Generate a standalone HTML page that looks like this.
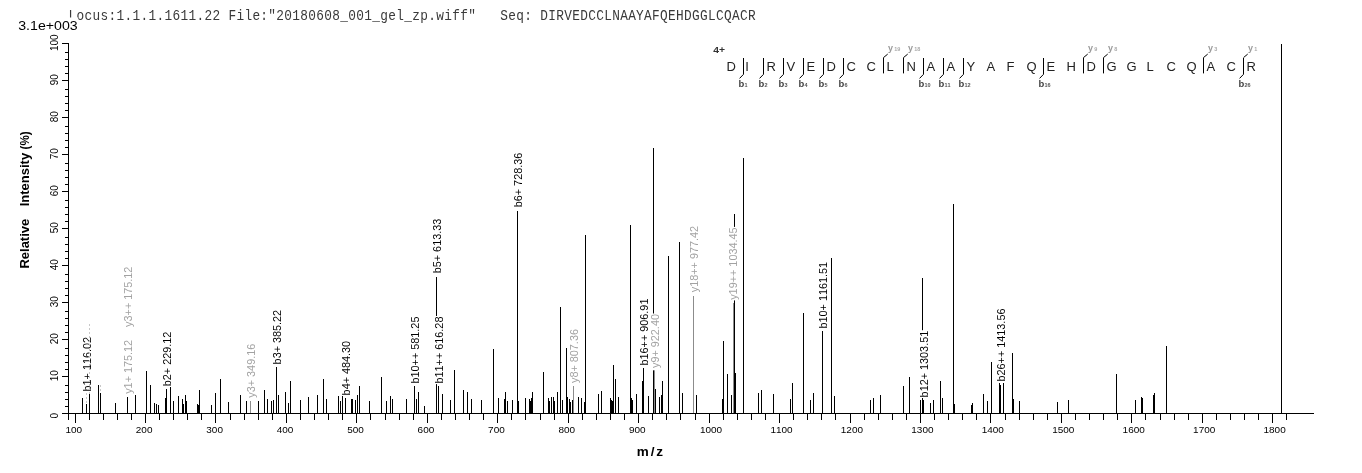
<!DOCTYPE html>
<html><head><meta charset="utf-8"><title>spectrum</title>
<style>html,body{margin:0;padding:0;background:#fff;}body{width:1362px;height:473px;overflow:hidden;}svg{display:block;will-change:transform;}text{font-family:"Liberation Sans",sans-serif;font-kerning:none;}.m{font-family:"Liberation Mono",monospace;}</style>
</head><body>
<svg width="1362" height="473" viewBox="0 0 1362 473">
<rect x="0" y="0" width="1362" height="473" fill="#fff"/>
<text class="m" transform="translate(68.5,19.8) scale(1,1.12)" font-size="12.8" letter-spacing="0.32" fill="#3a3a3a" xml:space="preserve">Locus:1.1.1.1611.22 File:"20180608_001_gel_zp.wiff"   Seq: DIRVEDCCLNAAYAFQEHDGGLCQACR</text>
<rect x="17" y="17.5" width="61.3" height="14" fill="#fff"/>
<text x="18.2" y="29.7" font-size="12" fill="#000" textLength="59.5" lengthAdjust="spacingAndGlyphs">3.1e+003</text>
<g shape-rendering="crispEdges">
<rect x="82" y="398" width="1" height="15" fill="#000"/>
<rect x="86" y="404" width="1" height="9" fill="#000"/>
<rect x="89" y="394" width="1" height="19" fill="#000"/>
<rect x="98" y="385" width="1" height="28" fill="#000"/>
<rect x="100" y="393" width="1" height="20" fill="#000"/>
<rect x="115" y="403" width="1" height="10" fill="#000"/>
<rect x="127" y="397" width="1" height="16" fill="#000"/>
<rect x="135" y="395" width="1" height="18" fill="#000"/>
<rect x="146" y="371" width="1" height="42" fill="#000"/>
<rect x="150" y="385" width="1" height="28" fill="#000"/>
<rect x="154" y="403" width="1" height="10" fill="#000"/>
<rect x="156" y="404" width="1" height="9" fill="#000"/>
<rect x="158" y="405" width="1" height="8" fill="#000"/>
<rect x="165" y="398" width="1" height="15" fill="#000"/>
<rect x="166" y="389" width="1" height="24" fill="#000"/>
<rect x="170" y="387" width="1" height="26" fill="#000"/>
<rect x="173" y="401" width="1" height="12" fill="#000"/>
<rect x="178" y="396" width="1" height="17" fill="#000"/>
<rect x="182" y="399" width="1" height="14" fill="#000"/>
<rect x="183" y="404" width="1" height="9" fill="#000"/>
<rect x="185" y="395" width="1" height="18" fill="#000"/>
<rect x="186" y="401" width="1" height="12" fill="#000"/>
<rect x="197" y="404" width="1" height="9" fill="#000"/>
<rect x="198" y="405" width="1" height="8" fill="#000"/>
<rect x="199" y="390" width="1" height="23" fill="#000"/>
<rect x="211" y="405" width="1" height="8" fill="#000"/>
<rect x="215" y="393" width="1" height="20" fill="#000"/>
<rect x="220" y="379" width="1" height="34" fill="#000"/>
<rect x="228" y="402" width="1" height="11" fill="#000"/>
<rect x="240" y="395" width="1" height="18" fill="#000"/>
<rect x="246" y="401" width="1" height="12" fill="#000"/>
<rect x="258" y="401" width="1" height="12" fill="#000"/>
<rect x="264" y="390" width="1" height="23" fill="#000"/>
<rect x="267" y="399" width="1" height="14" fill="#000"/>
<rect x="271" y="401" width="1" height="12" fill="#000"/>
<rect x="273" y="400" width="1" height="13" fill="#000"/>
<rect x="276" y="367" width="1" height="46" fill="#000"/>
<rect x="278" y="395" width="1" height="18" fill="#000"/>
<rect x="285" y="392" width="1" height="21" fill="#000"/>
<rect x="288" y="403" width="1" height="10" fill="#000"/>
<rect x="290" y="381" width="1" height="32" fill="#000"/>
<rect x="300" y="400" width="1" height="13" fill="#000"/>
<rect x="308" y="397" width="1" height="16" fill="#000"/>
<rect x="317" y="395" width="1" height="18" fill="#000"/>
<rect x="323" y="379" width="1" height="34" fill="#000"/>
<rect x="326" y="399" width="1" height="14" fill="#000"/>
<rect x="338" y="396" width="1" height="17" fill="#000"/>
<rect x="340" y="401" width="1" height="12" fill="#000"/>
<rect x="342" y="396" width="1" height="17" fill="#000"/>
<rect x="345" y="398" width="1" height="15" fill="#000"/>
<rect x="351" y="399" width="1" height="14" fill="#000"/>
<rect x="352" y="399" width="1" height="14" fill="#000"/>
<rect x="355" y="400" width="1" height="13" fill="#000"/>
<rect x="357" y="395" width="1" height="18" fill="#000"/>
<rect x="359" y="386" width="1" height="27" fill="#000"/>
<rect x="369" y="401" width="1" height="12" fill="#000"/>
<rect x="381" y="377" width="1" height="36" fill="#000"/>
<rect x="386" y="401" width="1" height="12" fill="#000"/>
<rect x="390" y="396" width="1" height="17" fill="#000"/>
<rect x="392" y="399" width="1" height="14" fill="#000"/>
<rect x="406" y="399" width="1" height="14" fill="#000"/>
<rect x="414" y="386" width="1" height="27" fill="#000"/>
<rect x="416" y="399" width="1" height="14" fill="#000"/>
<rect x="418" y="392" width="1" height="21" fill="#000"/>
<rect x="424" y="406" width="1" height="7" fill="#000"/>
<rect x="436" y="277" width="1" height="136" fill="#000"/>
<rect x="438" y="386" width="1" height="27" fill="#000"/>
<rect x="442" y="394" width="1" height="19" fill="#000"/>
<rect x="450" y="400" width="1" height="13" fill="#000"/>
<rect x="454" y="370" width="1" height="43" fill="#000"/>
<rect x="463" y="390" width="1" height="23" fill="#000"/>
<rect x="467" y="392" width="1" height="21" fill="#000"/>
<rect x="471" y="399" width="1" height="14" fill="#000"/>
<rect x="481" y="400" width="1" height="13" fill="#000"/>
<rect x="493" y="349" width="1" height="64" fill="#000"/>
<rect x="498" y="398" width="1" height="15" fill="#000"/>
<rect x="504" y="399" width="1" height="14" fill="#000"/>
<rect x="505" y="392" width="1" height="21" fill="#000"/>
<rect x="507" y="401" width="1" height="12" fill="#000"/>
<rect x="512" y="400" width="1" height="13" fill="#000"/>
<rect x="517" y="211" width="1" height="202" fill="#000"/>
<rect x="518" y="401" width="1" height="12" fill="#000"/>
<rect x="525" y="398" width="1" height="15" fill="#000"/>
<rect x="529" y="399" width="1" height="14" fill="#000"/>
<rect x="530" y="401" width="1" height="12" fill="#000"/>
<rect x="531" y="398" width="1" height="15" fill="#000"/>
<rect x="532" y="392" width="1" height="21" fill="#000"/>
<rect x="543" y="372" width="1" height="41" fill="#000"/>
<rect x="548" y="398" width="1" height="15" fill="#000"/>
<rect x="549" y="401" width="1" height="12" fill="#000"/>
<rect x="551" y="397" width="1" height="16" fill="#000"/>
<rect x="553" y="397" width="1" height="16" fill="#000"/>
<rect x="554" y="401" width="1" height="12" fill="#000"/>
<rect x="557" y="392" width="1" height="21" fill="#000"/>
<rect x="560" y="307" width="1" height="106" fill="#000"/>
<rect x="562" y="400" width="1" height="13" fill="#000"/>
<rect x="566" y="348" width="1" height="65" fill="#000"/>
<rect x="567" y="397" width="1" height="16" fill="#000"/>
<rect x="569" y="399" width="1" height="14" fill="#000"/>
<rect x="570" y="402" width="1" height="11" fill="#000"/>
<rect x="572" y="400" width="1" height="13" fill="#000"/>
<rect x="578" y="397" width="1" height="16" fill="#000"/>
<rect x="581" y="398" width="1" height="15" fill="#000"/>
<rect x="584" y="402" width="1" height="11" fill="#000"/>
<rect x="585" y="235" width="1" height="178" fill="#000"/>
<rect x="598" y="394" width="1" height="19" fill="#000"/>
<rect x="601" y="391" width="1" height="22" fill="#000"/>
<rect x="610" y="398" width="1" height="15" fill="#000"/>
<rect x="611" y="400" width="1" height="13" fill="#000"/>
<rect x="612" y="401" width="1" height="12" fill="#000"/>
<rect x="613" y="365" width="1" height="48" fill="#000"/>
<rect x="615" y="379" width="1" height="34" fill="#000"/>
<rect x="618" y="397" width="1" height="16" fill="#000"/>
<rect x="630" y="225" width="1" height="188" fill="#000"/>
<rect x="631" y="398" width="1" height="15" fill="#000"/>
<rect x="632" y="400" width="1" height="13" fill="#000"/>
<rect x="636" y="394" width="1" height="19" fill="#000"/>
<rect x="642" y="381" width="1" height="32" fill="#000"/>
<rect x="643" y="368" width="1" height="45" fill="#000"/>
<rect x="648" y="396" width="1" height="17" fill="#000"/>
<rect x="653" y="148" width="1" height="265" fill="#000"/>
<rect x="655" y="389" width="1" height="24" fill="#000"/>
<rect x="659" y="397" width="1" height="16" fill="#000"/>
<rect x="661" y="395" width="1" height="18" fill="#000"/>
<rect x="662" y="381" width="1" height="32" fill="#000"/>
<rect x="668" y="256" width="1" height="157" fill="#000"/>
<rect x="679" y="242" width="1" height="171" fill="#000"/>
<rect x="682" y="393" width="1" height="20" fill="#000"/>
<rect x="696" y="395" width="1" height="18" fill="#000"/>
<rect x="722" y="399" width="1" height="14" fill="#000"/>
<rect x="723" y="341" width="1" height="72" fill="#000"/>
<rect x="727" y="374" width="1" height="39" fill="#000"/>
<rect x="731" y="395" width="1" height="18" fill="#000"/>
<rect x="734" y="214" width="1" height="199" fill="#000"/>
<rect x="735" y="373" width="1" height="40" fill="#000"/>
<rect x="743" y="158" width="1" height="255" fill="#000"/>
<rect x="758" y="393" width="1" height="20" fill="#000"/>
<rect x="761" y="390" width="1" height="23" fill="#000"/>
<rect x="773" y="394" width="1" height="19" fill="#000"/>
<rect x="790" y="399" width="1" height="14" fill="#000"/>
<rect x="792" y="383" width="1" height="30" fill="#000"/>
<rect x="803" y="313" width="1" height="100" fill="#000"/>
<rect x="810" y="400" width="1" height="13" fill="#000"/>
<rect x="813" y="393" width="1" height="20" fill="#000"/>
<rect x="822" y="331" width="1" height="82" fill="#000"/>
<rect x="831" y="258" width="1" height="155" fill="#000"/>
<rect x="834" y="396" width="1" height="17" fill="#000"/>
<rect x="870" y="400" width="1" height="13" fill="#000"/>
<rect x="873" y="398" width="1" height="15" fill="#000"/>
<rect x="880" y="395" width="1" height="18" fill="#000"/>
<rect x="903" y="386" width="1" height="27" fill="#000"/>
<rect x="909" y="377" width="1" height="36" fill="#000"/>
<rect x="920" y="400" width="1" height="13" fill="#000"/>
<rect x="922" y="278" width="1" height="135" fill="#000"/>
<rect x="923" y="400" width="1" height="13" fill="#000"/>
<rect x="930" y="403" width="1" height="10" fill="#000"/>
<rect x="933" y="400" width="1" height="13" fill="#000"/>
<rect x="940" y="381" width="1" height="32" fill="#000"/>
<rect x="942" y="398" width="1" height="15" fill="#000"/>
<rect x="953" y="204" width="1" height="209" fill="#000"/>
<rect x="954" y="404" width="1" height="9" fill="#000"/>
<rect x="971" y="405" width="1" height="8" fill="#000"/>
<rect x="972" y="403" width="1" height="10" fill="#000"/>
<rect x="983" y="394" width="1" height="19" fill="#000"/>
<rect x="987" y="401" width="1" height="12" fill="#000"/>
<rect x="991" y="362" width="1" height="51" fill="#000"/>
<rect x="999" y="383" width="1" height="30" fill="#000"/>
<rect x="1000" y="385" width="1" height="28" fill="#000"/>
<rect x="1003" y="383" width="1" height="30" fill="#000"/>
<rect x="1012" y="353" width="1" height="60" fill="#000"/>
<rect x="1013" y="399" width="1" height="14" fill="#000"/>
<rect x="1019" y="401" width="1" height="12" fill="#000"/>
<rect x="1057" y="402" width="1" height="11" fill="#000"/>
<rect x="1068" y="400" width="1" height="13" fill="#000"/>
<rect x="1116" y="374" width="1" height="39" fill="#000"/>
<rect x="1135" y="400" width="1" height="13" fill="#000"/>
<rect x="1141" y="397" width="1" height="16" fill="#000"/>
<rect x="1142" y="398" width="1" height="15" fill="#000"/>
<rect x="1153" y="395" width="1" height="18" fill="#000"/>
<rect x="1154" y="393" width="1" height="20" fill="#000"/>
<rect x="1166" y="346" width="1" height="67" fill="#000"/>
<rect x="1281" y="44" width="1" height="369" fill="#000"/>
<rect x="250" y="401" width="1" height="12" fill="#8c8c8c"/>
<rect x="573" y="386" width="1" height="27" fill="#8c8c8c"/>
<rect x="654" y="370" width="1" height="43" fill="#8c8c8c"/>
<rect x="693" y="296" width="1" height="117" fill="#8c8c8c"/>
<rect x="733" y="303" width="1" height="110" fill="#8c8c8c"/>
</g>
<rect x="81.6" y="336.4" width="11" height="55.7" fill="#fff"/>
<rect x="122.4" y="339.3" width="11" height="55.1" fill="#fff"/>
<rect x="122.4" y="266.1" width="11" height="61.4" fill="#fff"/>
<rect x="161.7" y="331.1" width="11" height="55.7" fill="#fff"/>
<rect x="245.1" y="343.2" width="11" height="55.1" fill="#fff"/>
<rect x="271.6" y="309.3" width="11" height="55.7" fill="#fff"/>
<rect x="340.9" y="340.3" width="11" height="55.7" fill="#fff"/>
<rect x="409.7" y="316.0" width="11" height="68.1" fill="#fff"/>
<rect x="433.9" y="316.0" width="11" height="68.1" fill="#fff"/>
<rect x="431.9" y="218.2" width="11" height="55.7" fill="#fff"/>
<rect x="512.7" y="152.2" width="11" height="55.7" fill="#fff"/>
<rect x="568.2" y="328.5" width="11" height="55.1" fill="#fff"/>
<rect x="638.7" y="298.0" width="11" height="68.1" fill="#fff"/>
<rect x="650.0" y="313.5" width="11" height="56.8" fill="#fff"/>
<rect x="689.0" y="225.3" width="11" height="67.5" fill="#fff"/>
<rect x="728.0" y="226.9" width="11" height="73.5" fill="#fff"/>
<rect x="817.6" y="261.3" width="11" height="67.8" fill="#fff"/>
<rect x="918.7" y="330.2" width="11" height="67.8" fill="#fff"/>
<rect x="995.6" y="308.0" width="11" height="74.1" fill="#fff"/>
<text transform="translate(91.0,391.5) rotate(-90) scale(1,1.08)" font-size="10.85" fill="#000">b1+ 116.02</text>
<text transform="translate(131.8,393.8) rotate(-90) scale(1,1.08)" font-size="10.85" fill="#a2a2a2">y1+ 175.12</text>
<text transform="translate(131.8,326.9) rotate(-90) scale(1,1.08)" font-size="10.85" fill="#a2a2a2">y3++ 175.12</text>
<text transform="translate(171.1,386.2) rotate(-90) scale(1,1.08)" font-size="10.85" fill="#000">b2+ 229.12</text>
<text transform="translate(254.5,397.7) rotate(-90) scale(1,1.08)" font-size="10.85" fill="#a2a2a2">y3+ 349.16</text>
<text transform="translate(281.0,364.4) rotate(-90) scale(1,1.08)" font-size="10.85" fill="#000">b3+ 385.22</text>
<text transform="translate(350.3,395.4) rotate(-90) scale(1,1.08)" font-size="10.85" fill="#000">b4+ 484.30</text>
<text transform="translate(419.1,383.5) rotate(-90) scale(1,1.08)" font-size="10.85" fill="#000">b10++ 581.25</text>
<text transform="translate(443.3,383.5) rotate(-90) scale(1,1.08)" font-size="10.85" fill="#000">b11++ 616.28</text>
<text transform="translate(441.3,273.3) rotate(-90) scale(1,1.08)" font-size="10.85" fill="#000">b5+ 613.33</text>
<text transform="translate(522.1,207.3) rotate(-90) scale(1,1.08)" font-size="10.85" fill="#000">b6+ 728.36</text>
<text transform="translate(577.6,383.0) rotate(-90) scale(1,1.08)" font-size="10.85" fill="#a2a2a2">y8+ 807.36</text>
<text transform="translate(648.1,365.5) rotate(-90) scale(1,1.08)" font-size="10.85" fill="#000">b16++ 906.91</text>
<text transform="translate(659.4,368.0) rotate(-90) scale(1,1.08)" font-size="10.85" fill="#a2a2a2">y9+ 922.40</text>
<text transform="translate(698.4,292.2) rotate(-90) scale(1,1.08)" font-size="10.85" fill="#a2a2a2">y18++ 977.42</text>
<text transform="translate(737.4,299.8) rotate(-90) scale(1,1.08)" font-size="10.85" fill="#a2a2a2">y19++ 1034.45</text>
<text transform="translate(827.0,328.5) rotate(-90) scale(1,1.08)" font-size="10.85" fill="#000">b10+ 1161.51</text>
<text transform="translate(928.1,397.4) rotate(-90) scale(1,1.08)" font-size="10.85" fill="#000">b12+ 1303.51</text>
<text transform="translate(1005.0,381.5) rotate(-90) scale(1,1.08)" font-size="10.85" fill="#000">b26++ 1413.56</text>
<g stroke="#c8c8c8" stroke-width="1" stroke-dasharray="2,2" shape-rendering="crispEdges">
<line x1="89.5" y1="324" x2="89.5" y2="394"/>
<line x1="86.5" y1="393" x2="86.5" y2="403"/>
<line x1="100.5" y1="385" x2="100.5" y2="392"/>
</g>
<g shape-rendering="crispEdges" fill="#000">
<rect x="62" y="413" width="1252" height="1"/>
<rect x="68" y="43" width="1" height="377"/>
<rect x="62" y="413" width="6" height="1"/>
<rect x="65" y="406" width="3" height="1"/>
<rect x="65" y="399" width="3" height="1"/>
<rect x="65" y="392" width="3" height="1"/>
<rect x="65" y="385" width="3" height="1"/>
<rect x="62" y="376" width="6" height="1"/>
<rect x="65" y="369" width="3" height="1"/>
<rect x="65" y="362" width="3" height="1"/>
<rect x="65" y="355" width="3" height="1"/>
<rect x="65" y="348" width="3" height="1"/>
<rect x="62" y="339" width="6" height="1"/>
<rect x="65" y="332" width="3" height="1"/>
<rect x="65" y="325" width="3" height="1"/>
<rect x="65" y="318" width="3" height="1"/>
<rect x="65" y="311" width="3" height="1"/>
<rect x="62" y="302" width="6" height="1"/>
<rect x="65" y="295" width="3" height="1"/>
<rect x="65" y="288" width="3" height="1"/>
<rect x="65" y="281" width="3" height="1"/>
<rect x="65" y="274" width="3" height="1"/>
<rect x="62" y="265" width="6" height="1"/>
<rect x="65" y="258" width="3" height="1"/>
<rect x="65" y="251" width="3" height="1"/>
<rect x="65" y="244" width="3" height="1"/>
<rect x="65" y="237" width="3" height="1"/>
<rect x="62" y="228" width="6" height="1"/>
<rect x="65" y="221" width="3" height="1"/>
<rect x="65" y="214" width="3" height="1"/>
<rect x="65" y="207" width="3" height="1"/>
<rect x="65" y="200" width="3" height="1"/>
<rect x="62" y="191" width="6" height="1"/>
<rect x="65" y="184" width="3" height="1"/>
<rect x="65" y="177" width="3" height="1"/>
<rect x="65" y="170" width="3" height="1"/>
<rect x="65" y="163" width="3" height="1"/>
<rect x="62" y="154" width="6" height="1"/>
<rect x="65" y="147" width="3" height="1"/>
<rect x="65" y="140" width="3" height="1"/>
<rect x="65" y="133" width="3" height="1"/>
<rect x="65" y="126" width="3" height="1"/>
<rect x="62" y="117" width="6" height="1"/>
<rect x="65" y="110" width="3" height="1"/>
<rect x="65" y="103" width="3" height="1"/>
<rect x="65" y="96" width="3" height="1"/>
<rect x="65" y="89" width="3" height="1"/>
<rect x="62" y="80" width="6" height="1"/>
<rect x="65" y="73" width="3" height="1"/>
<rect x="65" y="66" width="3" height="1"/>
<rect x="65" y="59" width="3" height="1"/>
<rect x="65" y="52" width="3" height="1"/>
<rect x="62" y="43" width="6" height="1"/>
<rect x="75" y="413" width="1" height="10"/>
<rect x="89" y="413" width="1" height="7"/>
<rect x="103" y="413" width="1" height="7"/>
<rect x="117" y="413" width="1" height="7"/>
<rect x="131" y="413" width="1" height="7"/>
<rect x="145" y="413" width="1" height="10"/>
<rect x="159" y="413" width="1" height="7"/>
<rect x="173" y="413" width="1" height="7"/>
<rect x="187" y="413" width="1" height="7"/>
<rect x="201" y="413" width="1" height="7"/>
<rect x="215" y="413" width="1" height="10"/>
<rect x="230" y="413" width="1" height="7"/>
<rect x="244" y="413" width="1" height="7"/>
<rect x="258" y="413" width="1" height="7"/>
<rect x="272" y="413" width="1" height="7"/>
<rect x="286" y="413" width="1" height="10"/>
<rect x="300" y="413" width="1" height="7"/>
<rect x="314" y="413" width="1" height="7"/>
<rect x="328" y="413" width="1" height="7"/>
<rect x="342" y="413" width="1" height="7"/>
<rect x="356" y="413" width="1" height="10"/>
<rect x="370" y="413" width="1" height="7"/>
<rect x="385" y="413" width="1" height="7"/>
<rect x="399" y="413" width="1" height="7"/>
<rect x="413" y="413" width="1" height="7"/>
<rect x="427" y="413" width="1" height="10"/>
<rect x="441" y="413" width="1" height="7"/>
<rect x="455" y="413" width="1" height="7"/>
<rect x="469" y="413" width="1" height="7"/>
<rect x="483" y="413" width="1" height="7"/>
<rect x="497" y="413" width="1" height="10"/>
<rect x="511" y="413" width="1" height="7"/>
<rect x="525" y="413" width="1" height="7"/>
<rect x="540" y="413" width="1" height="7"/>
<rect x="554" y="413" width="1" height="7"/>
<rect x="568" y="413" width="1" height="10"/>
<rect x="582" y="413" width="1" height="7"/>
<rect x="596" y="413" width="1" height="7"/>
<rect x="610" y="413" width="1" height="7"/>
<rect x="624" y="413" width="1" height="7"/>
<rect x="638" y="413" width="1" height="10"/>
<rect x="652" y="413" width="1" height="7"/>
<rect x="666" y="413" width="1" height="7"/>
<rect x="680" y="413" width="1" height="7"/>
<rect x="695" y="413" width="1" height="7"/>
<rect x="709" y="413" width="1" height="10"/>
<rect x="723" y="413" width="1" height="7"/>
<rect x="737" y="413" width="1" height="7"/>
<rect x="751" y="413" width="1" height="7"/>
<rect x="765" y="413" width="1" height="7"/>
<rect x="779" y="413" width="1" height="10"/>
<rect x="793" y="413" width="1" height="7"/>
<rect x="807" y="413" width="1" height="7"/>
<rect x="821" y="413" width="1" height="7"/>
<rect x="835" y="413" width="1" height="7"/>
<rect x="850" y="413" width="1" height="10"/>
<rect x="864" y="413" width="1" height="7"/>
<rect x="878" y="413" width="1" height="7"/>
<rect x="892" y="413" width="1" height="7"/>
<rect x="906" y="413" width="1" height="7"/>
<rect x="920" y="413" width="1" height="10"/>
<rect x="934" y="413" width="1" height="7"/>
<rect x="948" y="413" width="1" height="7"/>
<rect x="962" y="413" width="1" height="7"/>
<rect x="976" y="413" width="1" height="7"/>
<rect x="990" y="413" width="1" height="10"/>
<rect x="1005" y="413" width="1" height="7"/>
<rect x="1019" y="413" width="1" height="7"/>
<rect x="1033" y="413" width="1" height="7"/>
<rect x="1047" y="413" width="1" height="7"/>
<rect x="1061" y="413" width="1" height="10"/>
<rect x="1075" y="413" width="1" height="7"/>
<rect x="1089" y="413" width="1" height="7"/>
<rect x="1103" y="413" width="1" height="7"/>
<rect x="1117" y="413" width="1" height="7"/>
<rect x="1131" y="413" width="1" height="10"/>
<rect x="1145" y="413" width="1" height="7"/>
<rect x="1160" y="413" width="1" height="7"/>
<rect x="1174" y="413" width="1" height="7"/>
<rect x="1188" y="413" width="1" height="7"/>
<rect x="1202" y="413" width="1" height="10"/>
<rect x="1216" y="413" width="1" height="7"/>
<rect x="1230" y="413" width="1" height="7"/>
<rect x="1244" y="413" width="1" height="7"/>
<rect x="1258" y="413" width="1" height="7"/>
<rect x="1272" y="413" width="1" height="10"/>
<rect x="1286" y="413" width="1" height="7"/>
</g>
<text transform="translate(65.4,433) scale(1,0.9)" font-size="10" fill="#000">100</text>
<text transform="translate(135.8,433) scale(1,0.9)" font-size="10" fill="#000">200</text>
<text transform="translate(206.3,433) scale(1,0.9)" font-size="10" fill="#000">300</text>
<text transform="translate(276.7,433) scale(1,0.9)" font-size="10" fill="#000">400</text>
<text transform="translate(347.2,433) scale(1,0.9)" font-size="10" fill="#000">500</text>
<text transform="translate(417.6,433) scale(1,0.9)" font-size="10" fill="#000">600</text>
<text transform="translate(488.1,433) scale(1,0.9)" font-size="10" fill="#000">700</text>
<text transform="translate(558.5,433) scale(1,0.9)" font-size="10" fill="#000">800</text>
<text transform="translate(629.0,433) scale(1,0.9)" font-size="10" fill="#000">900</text>
<text transform="translate(699.9,433) scale(1,0.9)" font-size="10" fill="#000">1000</text>
<text transform="translate(770.4,433) scale(1,0.9)" font-size="10" fill="#000">1100</text>
<text transform="translate(840.8,433) scale(1,0.9)" font-size="10" fill="#000">1200</text>
<text transform="translate(911.3,433) scale(1,0.9)" font-size="10" fill="#000">1300</text>
<text transform="translate(981.7,433) scale(1,0.9)" font-size="10" fill="#000">1400</text>
<text transform="translate(1052.2,433) scale(1,0.9)" font-size="10" fill="#000">1500</text>
<text transform="translate(1122.6,433) scale(1,0.9)" font-size="10" fill="#000">1600</text>
<text transform="translate(1193.1,433) scale(1,0.9)" font-size="10" fill="#000">1700</text>
<text transform="translate(1263.5,433) scale(1,0.9)" font-size="10" fill="#000">1800</text>
<text transform="translate(57.8,415.7) rotate(-90)" font-size="10" text-anchor="middle" fill="#000">0</text>
<text transform="translate(57.8,375.7) rotate(-90)" font-size="10" text-anchor="middle" fill="#000">10</text>
<text transform="translate(57.8,338.7) rotate(-90)" font-size="10" text-anchor="middle" fill="#000">20</text>
<text transform="translate(57.8,301.7) rotate(-90)" font-size="10" text-anchor="middle" fill="#000">30</text>
<text transform="translate(57.8,264.7) rotate(-90)" font-size="10" text-anchor="middle" fill="#000">40</text>
<text transform="translate(57.8,227.7) rotate(-90)" font-size="10" text-anchor="middle" fill="#000">50</text>
<text transform="translate(57.8,190.7) rotate(-90)" font-size="10" text-anchor="middle" fill="#000">60</text>
<text transform="translate(57.8,153.7) rotate(-90)" font-size="10" text-anchor="middle" fill="#000">70</text>
<text transform="translate(57.8,116.7) rotate(-90)" font-size="10" text-anchor="middle" fill="#000">80</text>
<text transform="translate(57.8,79.7) rotate(-90)" font-size="10" text-anchor="middle" fill="#000">90</text>
<text transform="translate(57.8,42.7) rotate(-90)" font-size="10" text-anchor="middle" fill="#000">100</text>
<text transform="translate(29.3,268.6) rotate(-90)" font-size="13" font-weight="bold" fill="#000">Relative</text>
<text transform="translate(29.3,206.3) rotate(-90)" font-size="13" font-weight="bold" fill="#000">Intensity</text>
<text transform="translate(29.3,149.4) rotate(-90)" font-size="13" font-weight="bold" fill="#000" textLength="18" lengthAdjust="spacingAndGlyphs">(%)</text>
<text x="636.8" y="455.8" font-size="13.5" font-weight="bold" fill="#000" letter-spacing="1.9">m/z</text>
<text x="713.2" y="52.6" font-size="9.5" font-weight="bold" fill="#333" textLength="11.8" lengthAdjust="spacingAndGlyphs">4+</text>
<text x="726.6" y="70.7" font-size="13" fill="#222">D</text>
<text x="745.3" y="70.7" font-size="13" fill="#222">I</text>
<text x="766.6" y="70.7" font-size="13" fill="#222">R</text>
<text x="786.6" y="70.7" font-size="13" fill="#222">V</text>
<text x="806.6" y="70.7" font-size="13" fill="#222">E</text>
<text x="826.6" y="70.7" font-size="13" fill="#222">D</text>
<text x="846.6" y="70.7" font-size="13" fill="#222">C</text>
<text x="866.6" y="70.7" font-size="13" fill="#222">C</text>
<text x="886.6" y="70.7" font-size="13" fill="#222">L</text>
<text x="906.6" y="70.7" font-size="13" fill="#222">N</text>
<text x="926.6" y="70.7" font-size="13" fill="#222">A</text>
<text x="946.6" y="70.7" font-size="13" fill="#222">A</text>
<text x="966.6" y="70.7" font-size="13" fill="#222">Y</text>
<text x="986.6" y="70.7" font-size="13" fill="#222">A</text>
<text x="1006.6" y="70.7" font-size="13" fill="#222">F</text>
<text x="1026.6" y="70.7" font-size="13" fill="#222">Q</text>
<text x="1046.6" y="70.7" font-size="13" fill="#222">E</text>
<text x="1066.6" y="70.7" font-size="13" fill="#222">H</text>
<text x="1086.6" y="70.7" font-size="13" fill="#222">D</text>
<text x="1106.6" y="70.7" font-size="13" fill="#222">G</text>
<text x="1126.6" y="70.7" font-size="13" fill="#222">G</text>
<text x="1146.6" y="70.7" font-size="13" fill="#222">L</text>
<text x="1166.6" y="70.7" font-size="13" fill="#222">C</text>
<text x="1186.6" y="70.7" font-size="13" fill="#222">Q</text>
<text x="1206.6" y="70.7" font-size="13" fill="#222">A</text>
<text x="1226.6" y="70.7" font-size="13" fill="#222">C</text>
<text x="1246.6" y="70.7" font-size="13" fill="#222">R</text>
<g stroke="#000" stroke-width="1" fill="none">
<path d="M743.5 58 V74.3 L739.6 78.4"/>
<path d="M763.5 58 V74.3 L759.6 78.4"/>
<path d="M783.5 58 V74.3 L779.6 78.4"/>
<path d="M803.5 58 V74.3 L799.6 78.4"/>
<path d="M823.5 58 V74.3 L819.6 78.4"/>
<path d="M843.5 58 V74.3 L839.6 78.4"/>
<path d="M923.5 58 V74.3 L919.6 78.4"/>
<path d="M943.5 58 V74.3 L939.6 78.4"/>
<path d="M963.5 58 V74.3 L959.6 78.4"/>
<path d="M1043.5 58 V74.3 L1039.6 78.4"/>
<path d="M1243.5 58 V74.3 L1239.6 78.4"/>
<path d="M883.5 73.4 V57.6 L887.7 54.1"/>
<path d="M903.5 73.4 V57.6 L907.7 54.1"/>
<path d="M1083.5 73.4 V57.6 L1087.7 54.1"/>
<path d="M1103.5 73.4 V57.6 L1107.7 54.1"/>
<path d="M1203.5 73.4 V57.6 L1207.7 54.1"/>
<path d="M1243.5 57.6 L1247.7 54.1"/>
</g>
<text x="738.5" y="86.5" font-size="9.5" font-weight="bold" fill="#444">b</text>
<text x="744.5" y="86.5" font-size="5.5" font-weight="bold" fill="#555">1</text>
<text x="758.5" y="86.5" font-size="9.5" font-weight="bold" fill="#444">b</text>
<text x="764.5" y="86.5" font-size="5.5" font-weight="bold" fill="#555">2</text>
<text x="778.5" y="86.5" font-size="9.5" font-weight="bold" fill="#444">b</text>
<text x="784.5" y="86.5" font-size="5.5" font-weight="bold" fill="#555">3</text>
<text x="798.5" y="86.5" font-size="9.5" font-weight="bold" fill="#444">b</text>
<text x="804.5" y="86.5" font-size="5.5" font-weight="bold" fill="#555">4</text>
<text x="818.5" y="86.5" font-size="9.5" font-weight="bold" fill="#444">b</text>
<text x="824.5" y="86.5" font-size="5.5" font-weight="bold" fill="#555">5</text>
<text x="838.5" y="86.5" font-size="9.5" font-weight="bold" fill="#444">b</text>
<text x="844.5" y="86.5" font-size="5.5" font-weight="bold" fill="#555">6</text>
<text x="918.5" y="86.5" font-size="9.5" font-weight="bold" fill="#444">b</text>
<text x="924.5" y="86.5" font-size="5.5" font-weight="bold" fill="#555">10</text>
<text x="938.5" y="86.5" font-size="9.5" font-weight="bold" fill="#444">b</text>
<text x="944.5" y="86.5" font-size="5.5" font-weight="bold" fill="#555">11</text>
<text x="958.5" y="86.5" font-size="9.5" font-weight="bold" fill="#444">b</text>
<text x="964.5" y="86.5" font-size="5.5" font-weight="bold" fill="#555">12</text>
<text x="1038.5" y="86.5" font-size="9.5" font-weight="bold" fill="#444">b</text>
<text x="1044.5" y="86.5" font-size="5.5" font-weight="bold" fill="#555">16</text>
<text x="1238.5" y="86.5" font-size="9.5" font-weight="bold" fill="#444">b</text>
<text x="1244.5" y="86.5" font-size="5.5" font-weight="bold" fill="#555">26</text>
<text x="888.1" y="50.5" font-size="9" font-weight="bold" fill="#999">y</text>
<text x="894.3" y="50.5" font-size="5.5" font-weight="bold" fill="#aaa">19</text>
<text x="908.1" y="50.5" font-size="9" font-weight="bold" fill="#999">y</text>
<text x="914.3" y="50.5" font-size="5.5" font-weight="bold" fill="#aaa">18</text>
<text x="1088.1" y="50.5" font-size="9" font-weight="bold" fill="#999">y</text>
<text x="1094.3" y="50.5" font-size="5.5" font-weight="bold" fill="#aaa">9</text>
<text x="1108.1" y="50.5" font-size="9" font-weight="bold" fill="#999">y</text>
<text x="1114.3" y="50.5" font-size="5.5" font-weight="bold" fill="#aaa">8</text>
<text x="1208.1" y="50.5" font-size="9" font-weight="bold" fill="#999">y</text>
<text x="1214.3" y="50.5" font-size="5.5" font-weight="bold" fill="#aaa">3</text>
<text x="1248.1" y="50.5" font-size="9" font-weight="bold" fill="#999">y</text>
<text x="1254.3" y="50.5" font-size="5.5" font-weight="bold" fill="#aaa">1</text>
</svg></body></html>
